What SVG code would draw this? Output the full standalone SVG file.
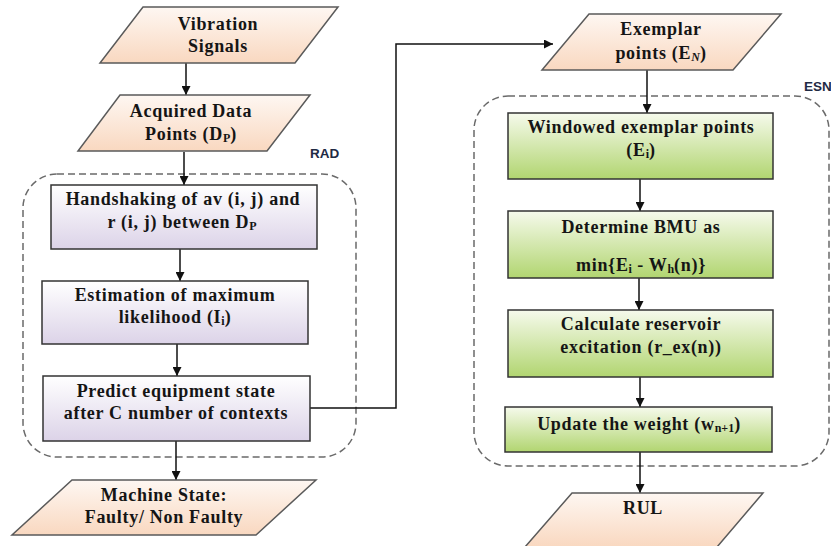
<svg xmlns="http://www.w3.org/2000/svg" width="831" height="546" viewBox="0 0 831 546">
<defs>
<linearGradient id="gPeach" x1="0" y1="0" x2="0" y2="1"><stop offset="0" stop-color="#fef7f2"/><stop offset="1" stop-color="#f9d8c0"/></linearGradient>
<linearGradient id="gLav" x1="0" y1="0" x2="0" y2="1"><stop offset="0" stop-color="#ffffff"/><stop offset="1" stop-color="#dcd3e8"/></linearGradient>
<linearGradient id="gGreen" x1="0" y1="0" x2="0" y2="1"><stop offset="0" stop-color="#f6faec"/><stop offset="1" stop-color="#b1d570"/></linearGradient>
<marker id="arr" viewBox="0 0 10 10" refX="10" refY="5" markerWidth="9" markerHeight="9" markerUnits="userSpaceOnUse" orient="auto"><path d="M0,0 L10,5 L0,10 z" fill="#111"/></marker>
<style>
.para{stroke:#5a5a5a;stroke-width:1.5;fill:url(#gPeach)}
.lav{stroke:#333;stroke-width:1.5;fill:url(#gLav)}
.grn{stroke:#333;stroke-width:1.5;fill:url(#gGreen)}
.cont{fill:none;stroke:#6a6a6a;stroke-width:1.5;stroke-dasharray:7 4}
.t{font-family:'Liberation Serif','DejaVu Serif','Times New Roman',serif;font-weight:bold;font-size:18px;letter-spacing:0.7px;fill:#151515;text-anchor:middle}
.lbl{font-family:'Liberation Sans',Arial,sans-serif;font-weight:bold;font-size:13.5px;fill:#1f2a44}
.c{fill:none;stroke:#111;stroke-width:1.5}
.s{font-size:12px;letter-spacing:0}
</style>
</defs>
<g id="containers">
<rect id="rad-container" class="cont" x="23" y="174" width="333" height="283" rx="34"/>
<rect id="esn-container" class="cont" x="474" y="96" width="355" height="370" rx="34"/>
<text class="lbl" x="310" y="158">RAD</text>
<text class="lbl" x="804" y="91">ESN</text>
</g>
<g id="connectors">
<line class="c" x1="186" y1="63" x2="186" y2="95" marker-end="url(#arr)"/>
<line class="c" x1="184" y1="152" x2="184" y2="185" marker-end="url(#arr)"/>
<line class="c" x1="180" y1="249" x2="180" y2="281" marker-end="url(#arr)"/>
<line class="c" x1="177" y1="344" x2="177" y2="376" marker-end="url(#arr)"/>
<line class="c" x1="176" y1="441" x2="176" y2="480" marker-end="url(#arr)"/>
<path class="c" d="M310,408 H396 V44 H553" marker-end="url(#arr)"/>
<line class="c" x1="647" y1="70" x2="647" y2="113" marker-end="url(#arr)"/>
<line class="c" x1="640" y1="179" x2="640" y2="211" marker-end="url(#arr)"/>
<line class="c" x1="639" y1="278" x2="639" y2="310" marker-end="url(#arr)"/>
<line class="c" x1="640" y1="377" x2="640" y2="407" marker-end="url(#arr)"/>
<line class="c" x1="640" y1="452" x2="640" y2="493" marker-end="url(#arr)"/>
</g>
<g id="vibration-signals">
<polygon class="para" points="143,7 338,7 295,63 100,63"/>
<text class="t" x="218" y="30">Vibration</text>
<text class="t" x="218" y="52">Signals</text>
</g>
<g id="acquired-data">
<polygon class="para" points="120,95 310,95 267,151 78,151"/>
<text class="t" x="191" y="117">Acquired Data</text>
<text class="t" x="191" y="140">Points (D<tspan class="s" dy="2">P</tspan><tspan dy="-2">)</tspan></text>
</g>
<g id="handshaking">
<rect class="lav" x="51" y="185" width="266" height="64"/>
<text class="t" x="183" y="205">Handshaking of av (i, j) and</text>
<text class="t" x="182" y="228">r (i, j) between D<tspan class="s" dy="2">P</tspan></text>
</g>
<g id="estimation">
<rect class="lav" x="42" y="281" width="266" height="63"/>
<text class="t" x="175" y="301">Estimation of maximum</text>
<text class="t" x="175" y="323">likelihood (I<tspan class="s" dy="2">i</tspan><tspan dy="-2">)</tspan></text>
</g>
<g id="predict">
<rect class="lav" x="43" y="376" width="267" height="65"/>
<text class="t" x="176" y="397">Predict equipment state</text>
<text class="t" x="176" y="419">after C number of contexts</text>
</g>
<g id="machine-state">
<polygon class="para" points="72,480 316,480 256,535 12,535"/>
<text class="t" x="164" y="501">Machine State:</text>
<text class="t" x="164" y="523">Faulty/ Non Faulty</text>
</g>
<g id="exemplar">
<polygon class="para" points="589,14 781,14 733,70 542,70"/>
<text class="t" x="661" y="35">Exemplar</text>
<text class="t" x="661" y="59">points (E<tspan class="s" dy="2" font-style="italic">N</tspan><tspan dy="-2">)</tspan></text>
</g>
<g id="windowed">
<rect class="grn" x="508" y="113" width="265" height="66"/>
<text class="t" x="641" y="133">Windowed exemplar points</text>
<text class="t" x="641" y="156">(E<tspan class="s" dy="2">i</tspan><tspan dy="-2">)</tspan></text>
</g>
<g id="determine">
<rect class="grn" x="508" y="211" width="265" height="67"/>
<text class="t" x="641" y="233">Determine BMU as</text>
<text class="t" x="641" y="271">min{E<tspan class="s" dy="2">i</tspan><tspan dy="-2"> - W</tspan><tspan class="s" dy="2">h</tspan><tspan dy="-2">(n)}</tspan></text>
</g>
<g id="calculate">
<rect class="grn" x="508" y="310" width="265" height="67"/>
<text class="t" x="641" y="330">Calculate reservoir</text>
<text class="t" x="641" y="353">excitation (r_ex(n))</text>
</g>
<g id="update">
<rect class="grn" x="505" y="407" width="267" height="45"/>
<text class="t" x="639" y="430">Update the weight (w<tspan class="s" dy="2">n+1</tspan><tspan dy="-2">)</tspan></text>
</g>
<g id="rul">
<polygon class="para" points="572,493 763,493 717,547 525,547"/>
<text class="t" x="643" y="514">RUL</text>
</g>
</svg>
